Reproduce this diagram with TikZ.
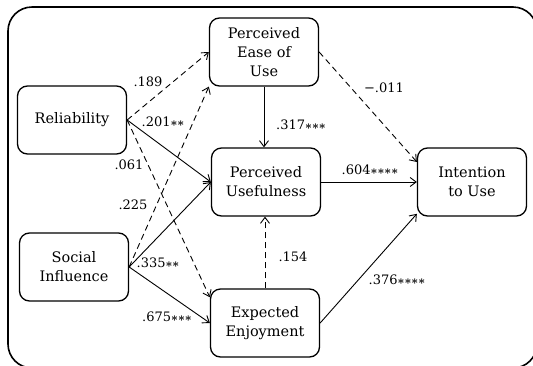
\documentclass[tikz,border=0pt]{standalone}
\usepackage{fontspec}
\setmainfont{DejaVu Serif}
\usetikzlibrary{arrows.meta}
\newcommand{\sigstars}[1]{\mbox{\boldmath$\foreach \k in {1,...,#1}{{\ast}}$}}

\begin{document}
\begin{tikzpicture}[x=1pt, y=-1pt]
  \tikzset{
    construct/.style={draw, line width=1.3pt, rounded corners=10pt,
      minimum width=109pt, minimum height=68pt, align=center,
      font=\fontsize{14.5}{19}\selectfont},
    coef/.style={font=\fontsize{13}{15}\selectfont, inner sep=1pt},
    path/.style={-{Straight Barb[length=6pt,width=9pt]}, line width=0.9pt},
    weak/.style={path, dash pattern=on 6pt off 4pt}
  }
  \useasboundingbox (0,0) rectangle (533,365);
  \draw[line width=1.6pt, rounded corners=24pt] (8,7) rectangle (537,368);

  \node[construct] (Rel)  at (72,120)  {Reliability};
  \node[construct] (Soc)  at (74,267)  {Social\\Influence};
  \node[construct] (PEOU) at (264,52)  {Perceived\\Ease of\\Use};
  \node[construct] (PU)   at (266,182) {Perceived\\Usefulness};
  \node[construct] (EE)   at (265,323) {Expected\\Enjoyment};
  \node[construct] (Int)  at (472,182) {Intention\\to Use};

  \draw[weak] (Rel.east) -- (PEOU.west);
  \draw[path] (Rel.east) -- (PU.west);
  \draw[weak] (Rel.east) -- (EE.155);
  \draw[weak] (Soc.east) -- (PEOU.south west);
  \draw[path] (Soc.east) -- (PU.west);
  \draw[path] (Soc.east) -- (EE.west);
  \draw[path] (PEOU.south) -- (PEOU.south |- PU.north);
  \draw[weak] (PEOU.east) -- (Int.160);
  \draw[path] (PU.east) -- (Int.west);
  \draw[weak] (EE.north) -- (EE.north |- PU.south);
  \draw[path] (EE.east) -- (Int.210);

  \node[coef] (c-rel-peou) at (148,82)  {.189};
  \node[coef] (c-rel-pu)   at (163,122) {.201\sigstars{2}};
  \node[coef] (c-rel-ee)   at (129,165) {.061};
  \node[coef] (c-soc-peou) at (133,205) {.225};
  \node[coef] (c-soc-pu)   at (158,263) {.335\sigstars{2}};
  \node[coef] (c-soc-ee)   at (167,317) {.675\sigstars{3}};
  \node[coef] (c-peou-pu)  at (301,125) {.317\sigstars{3}};
  \node[coef] (c-peou-int) at (384,88)  {−.011};
  \node[coef] (c-pu-int)   at (370,170) {.604\sigstars{4}};
  \node[coef] (c-ee-pu)    at (293,257) {.154};
  \node[coef] (c-ee-int)   at (397,280) {.376\sigstars{4}};
\end{tikzpicture}
\end{document}
